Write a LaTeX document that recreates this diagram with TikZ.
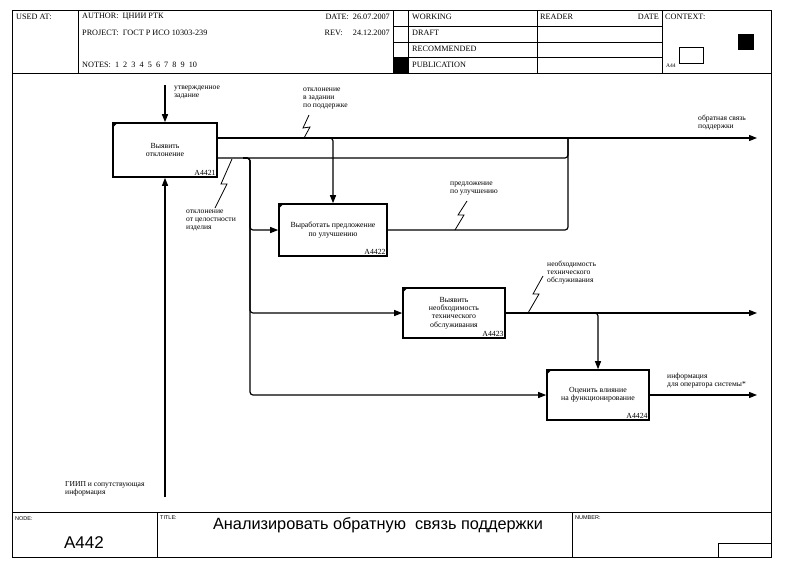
\documentclass[tikz,border=0pt]{standalone}
\usepackage{fontspec}
\setmainfont{Liberation Serif}
\newfontfamily\headsans{Liberation Sans}
\usetikzlibrary{arrows.meta,calc}

\begin{document}
\begin{tikzpicture}[x=1pt,y=-1pt,
  func/.style={draw,line width=1.6pt,align=center,font=\fontsize{7.8}{8.2}\selectfont,inner sep=1pt},
  code/.style={anchor=south east,font=\fontsize{7.8}{8}\selectfont,inner sep=2pt},
  lbl/.style={anchor=north west,align=left,font=\fontsize{7.6}{7.9}\selectfont,inner sep=0pt},
  hdr/.style={anchor=west,font=\fontsize{8.2}{9}\selectfont,inner sep=0pt},
  ftr/.style={anchor=north west,font=\headsans\fontsize{5.5}{6}\selectfont,inner sep=0pt},
  arr/.style={-{Triangle[length=8pt,width=6pt]},line width=1.2pt,rounded corners=3pt},
  pipe/.style={line width=1.2pt,rounded corners=3pt},
  squig/.style={line width=0.8pt},
  rule/.style={line width=1pt}]
\useasboundingbox (0,0) rectangle (786,571);
% form
\draw[rule] (12,10) rectangle (771,557);
\draw[rule] (12,73) -- (771,73);
\draw[rule] (12,512) -- (771,512);
\foreach \x in {78,393,408,537,662} \draw[rule] (\x,10) -- (\x,73);
\foreach \y in {26,42,57} \draw[rule] (393,\y) -- (662,\y);
\draw[rule] (157,512) -- (157,557);
\draw[rule] (572,512) -- (572,557);
\draw[rule] (718,557) |- (771,543);
\fill (393,57) rectangle (408,73);
\draw (679,47) rectangle (703,63);
\fill (738,34) rectangle (754,50);
\node[hdr] (usedat) at (16,17) {USED AT:};
\node[hdr] (author) at (82,17) {AUTHOR:\ \ ЦНИИ РТК};
\node[hdr] (project) at (82,33) {PROJECT:\ \ ГОСТ Р ИСО 10303-239};
\node[hdr] (notes) at (82,65) {NOTES:\ \ 1\ \ 2\ \ 3\ \ 4\ \ 5\ \ 6\ \ 7\ \ 8\ \ 9\ \ 10};
\node[hdr,anchor=east] (date) at (390,17) {DATE:\ \ 26.07.2007};
\node[hdr,anchor=east] (rev) at (390,33) {REV:\quad\ 24.12.2007};
\node[hdr] (working) at (412,17) {WORKING};
\node[hdr] (draft) at (412,33) {DRAFT};
\node[hdr] (recom) at (412,49) {RECOMMENDED};
\node[hdr] (publ) at (412,65) {PUBLICATION};
\node[hdr] (reader) at (540,17) {READER};
\node[hdr,anchor=east] (rdate) at (659,17) {DATE};
\node[hdr] (context) at (665,17) {CONTEXT:};
\node[hdr,font=\fontsize{5.5}{6}\selectfont] (ctxnode) at (666,66) {A44};
\node[ftr] (nodelbl) at (15,516) {NODE:};
\node[ftr] (titlelbl) at (160,516) {TITLE:};
\node[ftr] (numlbl) at (575,516) {NUMBER:};
\node[font=\headsans\fontsize{17}{19}\selectfont] (nodenum) at (84,543) {A442};
\node[font=\headsans\fontsize{16.3}{18}\selectfont] (title) at (378,525) {Анализировать обратную\ \ связь поддержки};
% functions
\node[func,minimum width=104pt,minimum height=54pt] (a1) at (165,150) {Выявить\\отклонение};
\node[func,minimum width=108pt,minimum height=52pt] (a2) at (333,230) {Выработать предложение\\по улучшению};
\node[func,minimum width=102pt,minimum height=50pt] (a3) at (454,313) {Выявить\\необходимость\\технического\\обслуживания};
\node[func,minimum width=102pt,minimum height=50pt] (a4) at (598,395) {Оценить влияние\\на функционирование};
\node[code] at (a1.south east) {A4421};
\node[code] at (a2.south east) {A4422};
\node[code] at (a3.south east) {A4423};
\node[code] at (a4.south east) {A4424};
\foreach \b in {a1,a2,a3,a4}
  \fill (\b.north west) -- ++(6pt,0pt) -- ++(-6pt,-6pt) -- cycle;
% boundary points
\coordinate (ctrlin) at (165,85);
\coordinate (mechin) at (165,497);
\coordinate (out1) at (757,138);
\coordinate (out3) at (757,313);
\coordinate (out4) at (757,395);
\coordinate (j1) at (568,138);
\coordinate (j2a) at (243,158);
\coordinate (j2) at (250,158);
% arrows
\draw[arr] (ctrlin) -- (a1);
\draw[arr] (mechin) -- (a1);
\draw[arr] (a1.east |- out1) -- (out1);
\draw[arr] ($(a2.north |- out1)+(-7,0)$) -- (a2.north |- out1) -- (a2.north);
\draw[pipe] ([yshift=-8pt]a1.east) -| (j1);
\draw[pipe] (a2.east) -| (j1);
\draw[arr] (j2a) -- (j2) |- (a2.west);
\draw[arr] (j2a) -- (j2) |- (a3.west);
\draw[arr] (j2a) -- (j2) |- (a4.west);
\draw[arr] (a3.east) -- (out3);
\draw[arr] ($(a4.north |- out3)+(-7,0)$) -- (a4.north |- out3) -- (a4.north);
\draw[arr] (a4.east) -- (out4);
% labels
\node[lbl] (ctrltxt) at (174,86) {утвержденное\\задание};
\node[lbl] (mechtxt) at (65,481) {ГИИП и сопутствующая\\информация};
\node[lbl] (dev1) at (303,88) {отклонение\\в задании\\по поддержке};
\node[lbl] (fb) at (698,115) {обратная связь\\поддержки};
\node[lbl] (prop) at (450,182) {предложение\\по улучшению};
\node[lbl] (dev2) at (186,210) {отклонение\\от целостности\\изделия};
\node[lbl] (need) at (547,261) {необходимость\\технического\\обслуживания};
\node[lbl] (info) at (667,373) {информация\\для оператора системы*};
% squiggles
\draw[squig] (309,115) -- (303,128) -- (310,127) -- (304,138);
\draw[squig] (232,159) -- (221,184) -- (227,184) -- (215,208);
\draw[squig] (467,201) -- (458,215) -- (464,215) -- (455,230);
\draw[squig] (543,276) -- (533,294) -- (539,294) -- (528,313);
\end{tikzpicture}
\end{document}
